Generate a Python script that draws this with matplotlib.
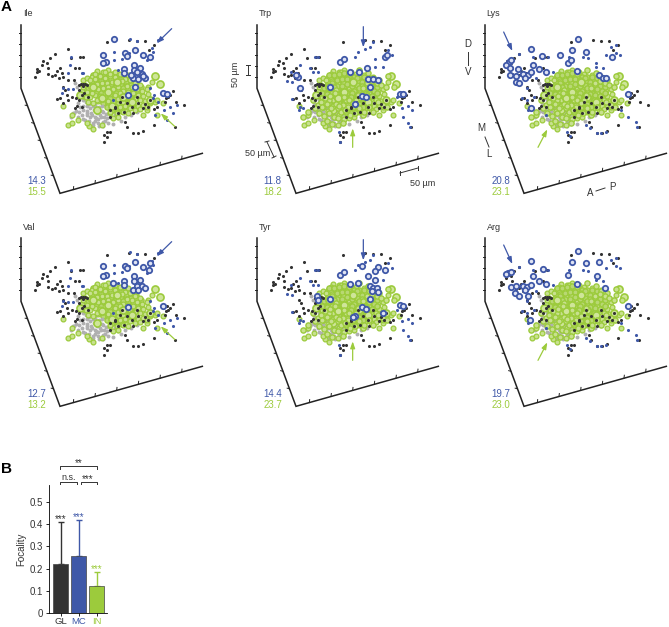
import numpy as np
import matplotlib
matplotlib.use('Agg')
import matplotlib.pyplot as plt

plt.rcParams['font.family'] = ['Liberation Sans', 'DejaVu Sans']

BLUE = '#3f58a8'
GREEN = '#9ccb3c'
DARK = '#333333'

# cell positions in 1/3 px units
black_x = [105,110,118,112,125,128,140,150,165,145,143,155,165,170,180,185,190,178,205,240,250,212,225,238,222,205,190,195,172,180,188,200,205,215,228,238,250,236,238,260,245,252,265,232,245,225,320,388,412,435,462,448,330,345,355,372,330,375,380,320,330,312,322,312,415,400,430,462,525,498,505,500,510,520,495,528,552,470,462,445,435,415,412,395,380,360,345,365,400,430,450,242,248,254]
black_y = [232,215,212,208,195,183,190,175,162,205,222,228,225,213,205,218,230,235,148,170,172,175,205,205,240,240,262,270,297,295,308,285,300,290,295,300,258,255,270,255,285,278,290,318,322,325,125,120,122,124,135,150,330,325,340,335,350,365,380,395,395,405,412,426,400,398,392,375,380,295,290,280,285,272,305,305,316,320,328,320,312,310,290,320,310,305,320,290,340,325,300,253,253,253]

gray_x = [225,232,240,215,222,250,262,275,270,285,295,260,245,235,220,212,255,270,285,300,310,265,280,295,310,325,340,355,375,392,410,322,305,290,250,235,270,345,362,
          258,268,278,288,298,308,318,262,272,282,292,302,312,240,250,260,228,238,248,275,285,295,305,315,330,268,278,288,298]
gray_y = [250,262,280,345,338,330,318,305,325,315,330,340,345,352,340,350,360,352,362,345,365,372,375,368,378,368,372,355,350,345,335,355,318,300,300,310,290,345,362,
          305,312,318,306,322,335,342,332,338,330,338,352,350,322,318,345,332,335,358,345,352,358,332,362,352,362,368,355,378]

green_x = [290,310,325,345,385,405,445,455,250,262,275,190,205,215,235,268,280,262,305,330,
           270,285,300,315,330,345,360,375,390,405,420,255,270,290,305,320,335,350,365,380,395,410,425,440,
           245,260,275,295,310,325,340,355,370,385,400,415,430,445,255,270,285,300,315,330,345,360,375,390,405,420,435,
           265,280,295,310,325,340,355,370,385,400,415,430,450,465,345,360,375,390,405,420,440,330,350,370,385,355,340,
           240,258,275,290,215,250,440,470,488,315,330,300,285,360,410,470,430,395]
green_y = [212,215,210,215,225,245,262,245,240,235,230,318,375,370,360,378,388,368,375,340,
           240,238,232,235,228,232,225,238,240,250,255,255,258,252,250,248,245,250,242,258,262,268,272,268,
           272,275,270,268,265,262,268,262,272,275,280,285,288,282,290,292,285,288,280,282,285,278,290,292,298,300,302,
           305,308,302,298,302,305,298,305,310,312,318,315,310,305,318,322,318,325,330,328,330,335,338,335,340,350,355,
           285,292,280,300,345,262,320,300,310,215,222,228,222,222,232,345,345,300]
green_core_x = [280,295,310,325,340,355,370,385,400,288,303,318,333,348,363,378,393,408,272,287,302,317,332,347,362,377,392,407,422,265,280,295,310,325,340,355,370,385,400,415,258,273,288,303,318,333,348,363,378,393,408,423,300,315,330,345,360,375,390,310,325,340,355,370,385,320,335,350,365,380,395,335,350,365]
green_core_y = [225,225,222,220,222,230,232,230,235,242,240,238,238,240,235,245,248,245,255,250,258,258,252,258,255,258,255,258,262,265,265,262,272,272,275,272,265,268,268,272,280,282,278,280,275,280,278,285,282,285,288,278,292,290,295,292,295,298,300,308,310,308,310,312,315,322,318,325,322,322,318,330,335,332]
green_big_x = [465,480,240,325,350,305,370,280,395,335,450,290]
green_big_y = [228,252,285,275,245,295,290,260,305,318,300,330]

# extra cells seen only in the panels with the higher number
green_more_x = [230,245,260,275,290,305,320,335,350,250,265,280,295,310,325,345,238,255,272,288,305,320,215,200,280,360,380,330,300,410,430,455,475,395,370,
                258,272,286,300,314,328,342,356,370,384,398,412,426,440,454,268,282,296,310,324,338,352,366,380,394,408,422,436,450]
green_more_y = [300,315,322,332,318,325,315,322,310,340,348,338,352,345,358,340,325,305,362,372,355,368,335,350,300,300,345,300,270,235,240,228,260,220,210,
                320,312,325,312,335,330,345,338,325,335,320,335,305,315,320,295,288,280,318,290,300,310,285,265,250,242,250,255,262]

ile_ring_x = [343,310,318,310,375,380,405,428,450,372,372,402,402,420,410,425,400,435,415,405,490,500,392,412,430,384]
ile_ring_y = [118,165,187,190,158,168,150,165,172,208,220,195,210,205,225,222,235,235,237,260,280,282,225,215,228,285]
ile_small_x = [390,412,342,365,342,205,210,212,245,250,190,205,218,185,455,458,475,450,462,458,475,510,518,492,530,500,465,388,355,340,440]
ile_small_y = [118,122,155,178,180,218,195,170,218,218,265,268,268,280,145,155,120,265,285,295,305,320,338,330,315,360,345,160,210,300,180]

val_ring_x = [310,318,310,375,380,405,428,448,450,340,372,372,402,402,420,410,425,400,435,415,490,383]
val_ring_y = [160,185,188,158,165,147,162,170,150,210,205,215,190,205,200,220,218,230,225,232,278,283]

trp_ring_x = [282,342,369,392,397,412,427,402,357,377,389,187,180,312,324,192,492,502,447,452]
trp_ring_y = [260,215,215,203,238,238,240,260,312,288,290,232,225,185,178,265,282,282,172,165]
trp_small_x = [237,247,192,164,152,167,222,230,247,167,192,202,190,387,367,357,412,455,467,402,417,497,517,527,502,517,522,312,310,482,442,417]
trp_small_y = [172,170,195,215,243,245,205,215,215,296,320,325,330,148,155,170,125,150,165,140,178,325,318,330,350,368,380,425,395,290,200,200]

tyr_ring_x = [312,324,342,367,377,427,447,417,397,417,402,412,422,427,407,402,377,389,357,352,282,242,247,442,492,500]
tyr_ring_y = [185,178,212,210,160,163,172,175,190,200,220,225,225,238,235,258,283,287,308,312,258,250,262,300,275,278]

lys_ring_x = [342,325,365,202,207,135,142,127,139,162,139,155,155,165,177,192,182,202,225,245,339,200,235,405,417,427,492,312,322,289,445]
lys_ring_y = [118,150,155,147,195,185,180,195,205,208,225,228,245,250,222,225,235,215,208,215,213,323,168,225,235,235,282,188,180,165,170]
lys_small_x = [207,252,165,315,357,372,425,442,457,467,455,397,417,267,217,189,175,189,209,192,247,367,377,309,317,399,412,425,517,519,492,472,397]
lys_small_y = [170,172,162,172,170,175,165,140,135,165,160,200,205,215,235,265,295,300,290,330,345,375,385,395,408,400,398,395,365,380,350,330,190]

arg_ring_x = [342,325,365,405,399,202,207,225,245,339,132,125,142,140,155,152,165,177,189,182,192,202,199,312,237,422,492]
arg_ring_y = [115,147,150,147,188,143,190,205,212,212,180,183,178,222,218,240,248,218,222,232,248,215,320,185,168,225,278]

panel_names = ['Ile', 'Trp', 'Lys', 'Val', 'Tyr', 'Arg']
blue_numbers = ['14.3', '11.8', '20.8', '12.7', '14.4', '19.7']
green_numbers = ['15.5', '18.2', '23.1', '13.2', '23.7', '23.0']

# focality bars
bar_labels = ['GL', 'MC', 'IN']
bar_values = [0.22, 0.255, 0.123]
bar_tops = [0.41, 0.42, 0.185]
bar_colors = [DARK, BLUE, GREEN]

fig = plt.figure(figsize=(6.69, 6.27), dpi=100)
ax = fig.add_axes([0, 0, 1, 1])
ax.set_xlim(0, 669)
ax.set_ylim(627, 0)
ax.axis('off')


def draw_panel(dx, dy, rings, small, more_green, name, n1, n2, blue_arrow, green_arrow):
    def px(v):
        return np.array(v) / 3 + dx

    def py(v):
        return np.array(v) / 3 + dy

    # frame of the 3d view
    ax.plot(px([63, 63, 180, 607]), py([75, 265, 580, 460]), color='#222222', lw=1.1, solid_joinstyle='miter')
    for i in range(1, 6):
        yy = 265 - 33 * i
        ax.plot(px([57, 63]), py([yy, yy]), color='#222222', lw=0.7)
        t = i / 6
        xa, ya = 63 + 117 * t, 265 + 315 * t
        ax.plot(px([xa - 7, xa]), py([ya - 2, ya]), color='#222222', lw=0.7)
    for i in range(1, 7):
        xb = 180 + 65 * i - 25
        yb = 580 - (xb - 180) * 120 / 427
        ax.plot(px([xb, xb + 1]), py([yb, yb - 9]), color='#222222', lw=0.7)

    # in the sparse panels the outer green rings lie over the gray cells
    base_z = 3 if more_green else 3.6
    ax.scatter(px(green_x), py(green_y), s=12, facecolors='#c8e18f', edgecolors=GREEN, lw=0.9, zorder=base_z)
    ax.scatter(px(green_core_x), py(green_core_y), s=14, facecolors='#b8d873', edgecolors=GREEN, lw=1, zorder=3)
    ax.scatter(px(green_big_x), py(green_big_y), s=26, facecolors='#cfe59a', edgecolors=GREEN, lw=1.2, zorder=base_z)
    if more_green:
        ax.scatter(px(green_more_x), py(green_more_y), s=14, facecolors='#c8e18f', edgecolors=GREEN, lw=1, zorder=3)
        ax.scatter(px(gray_x), py(gray_y), s=8, color='#b0b0b0', lw=0, zorder=2)
    else:
        ax.scatter(px(gray_x), py(gray_y), s=8, color='#b0b0b0', lw=0, zorder=3.5)
    ax.scatter(px(black_x), py(black_y), s=5, color=DARK, lw=0, marker='o', zorder=4)
    ax.scatter(px(small[0]), py(small[1]), s=5, color=BLUE, lw=0, zorder=5)
    ax.scatter(px(rings[0]), py(rings[1]), s=15, facecolors='#dfe3f3', edgecolors=BLUE, lw=1.3, zorder=5)

    for arrow, col in ((blue_arrow, BLUE), (green_arrow, GREEN)):
        ax.annotate('', xy=(px(arrow[2]), py(arrow[3])), xytext=(px(arrow[0]), py(arrow[1])), zorder=6,
                    arrowprops=dict(arrowstyle='-|>,head_width=0.14,head_length=0.4', color=col, lw=0.9, shrinkA=0, shrinkB=0))

    ax.text(px(68), py(42), name, fontsize=6.5, color='#333333', va='center')
    ax.text(px(82), py(544), n1, fontsize=7, color=BLUE, va='center')
    ax.text(px(82), py(577), n2, fontsize=7, color=GREEN, va='center')


arrows = {
    'ile': ((515, 86, 470, 130), (525, 380, 482, 340)),
    'trp': ((382, 80, 382, 142), (350, 442, 350, 385)),
    'lys': ((119, 96, 145, 153), (222, 442, 250, 388)),
}
offs_x = [0, 236, 464, 0, 236, 464]
offs_y = [0, 0, 0, 213, 213, 213]
ring_sets = [(ile_ring_x, ile_ring_y), (trp_ring_x, trp_ring_y), (lys_ring_x, lys_ring_y),
             (val_ring_x, val_ring_y), (tyr_ring_x, tyr_ring_y), (arg_ring_x, arg_ring_y)]
small_sets = [(ile_small_x, ile_small_y), (trp_small_x, trp_small_y), (lys_small_x, lys_small_y)] * 2
arrow_sets = [arrows['ile'], arrows['trp'], arrows['lys']] * 2
more = [False, True, True, False, True, True]

for i in range(6):
    draw_panel(offs_x[i], offs_y[i], ring_sets[i], small_sets[i], more[i], panel_names[i],
               blue_numbers[i], green_numbers[i], arrow_sets[i][0], arrow_sets[i][1])

ax.text(1, 7, 'A', fontsize=11, fontweight='bold', va='center')
ax.text(1, 469, 'B', fontsize=11, fontweight='bold', va='center')

# scale bars, Trp panel
tc = '#333333'
ax.plot([248, 248], [65, 75], color=tc, lw=0.7)
ax.plot([246, 250], [65, 65], color=tc, lw=0.7)
ax.plot([246, 250], [75, 75], color=tc, lw=0.7)
ax.text(236, 74, '50 µm', fontsize=6.5, color=tc, rotation=90, ha='center', va='center')
ax.plot([267, 274], [142, 157], color=tc, lw=0.7)
ax.plot([265, 269], [142, 141], color=tc, lw=0.7)
ax.plot([272, 276], [158, 156], color=tc, lw=0.7)
ax.text(245, 153, '50 µm', fontsize=6.5, color=tc, va='center')
ax.plot([400, 418], [173, 168], color=tc, lw=0.7)
ax.plot([400, 400], [171, 175], color=tc, lw=0.7)
ax.plot([418, 418], [166, 170], color=tc, lw=0.7)
ax.text(410, 183, '50 µm', fontsize=6.5, color=tc, va='center')

# orientation marks, Lys panel
ax.text(468, 44, 'D', fontsize=7, color=tc, ha='center', va='center')
ax.plot([468, 468], [52, 65], color=tc, lw=0.7)
ax.text(468, 72, 'V', fontsize=7, color=tc, ha='center', va='center')
ax.text(481, 128, 'M', fontsize=7, color=tc, ha='center', va='center')
ax.plot([485, 489], [137, 147], color=tc, lw=0.7)
ax.text(489, 154, 'L', fontsize=7, color=tc, ha='center', va='center')
ax.text(590, 193, 'A', fontsize=7, color=tc, ha='center', va='center')
ax.plot([596, 605], [191, 188], color=tc, lw=0.7)
ax.text(612, 187, 'P', fontsize=7, color=tc, ha='center', va='center')

# panel B
bx = fig.add_axes([49 / 669, 1 - 613 / 627, 58 / 669, 128 / 627])
xpos = [0, 1, 2]
bx.bar(xpos, bar_values, width=0.83, color=bar_colors, edgecolor='#444444', lw=0.5, zorder=2)
for x, v, t, c in zip(xpos, bar_values, bar_tops, bar_colors):
    bx.errorbar(x, v, yerr=[[0], [t - v]], color=c, capsize=2.5, lw=1, capthick=1, zorder=1)
    bx.text(x, t + 0.012, '***', fontsize=7, color=c, ha='center', va='center')
bx.set_xlim(-0.64, 2.58)
bx.set_ylim(0, 0.576)
bx.set_xticks(xpos)
bx.set_xticklabels(bar_labels, fontsize=6.8)
for lab, c in zip(bx.get_xticklabels(), ['#333333', BLUE, GREEN]):
    lab.set_color(c)
bx.set_yticks([0, 0.1, 0.2, 0.3, 0.4, 0.5])
bx.set_yticklabels(['0', '0.1', '0.2', '0.3', '0.4', '0.5'], fontsize=7, color='#333333')
bx.tick_params(axis='y', length=2.5, width=0.6, pad=2)
bx.tick_params(axis='x', length=2, width=0.6, pad=1)
bx.set_ylabel('Focality', fontsize=7, color='#333333', labelpad=2)
bx.spines['top'].set_visible(False)
bx.spines['right'].set_visible(False)
for s in ('left', 'bottom'):
    bx.spines[s].set_linewidth(0.6)

# significance brackets
ax.plot([60, 60, 97, 97], [469, 466, 466, 469], color=tc, lw=0.7)
ax.plot([60, 60, 77, 77], [485, 482, 482, 485], color=tc, lw=0.7)
ax.plot([81, 81, 97, 97], [485, 482, 482, 485], color=tc, lw=0.7)
ax.text(79, 463, '**', fontsize=7, color=tc, ha='center', va='center')
ax.text(69, 477, 'n.s.', fontsize=6.5, color=tc, ha='center', va='center')
ax.text(88, 479, '***', fontsize=7, color=tc, ha='center', va='center')

plt.savefig('out.png', dpi=100)
